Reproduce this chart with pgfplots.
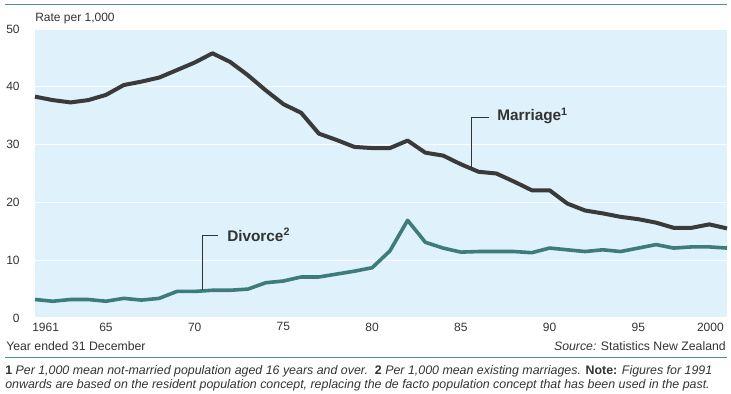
\documentclass[border=0pt]{standalone}
\usepackage{pgfplots}
\pgfplotsset{compat=1.18}
\usepackage{fontspec}
\setmainfont{Liberation Sans}
\definecolor{bgblue}{HTML}{DFF1FA}
\definecolor{marr}{HTML}{3A3A3A}
\definecolor{divc}{HTML}{3D7C7A}
\definecolor{rule}{HTML}{4E8E9A}
\definecolor{txt}{HTML}{333333}
\begin{document}
\begin{tikzpicture}[x=0.75pt,y=-0.75pt]
\path (0,0) rectangle (731,393);
\draw[rule,line width=1.2pt] (5,4.5) -- (727,4.5);
\draw[rule,line width=1.2pt] (5,357.5) -- (727,357.5);
\begin{axis}[
  at={(26.25pt,-238.5pt)}, anchor=south west,
  scale only axis, width=519pt, height=216.75pt,
  xmin=1961, xmax=2000, ymin=0, ymax=50,
  axis background/.style={fill=bgblue},
  axis line style={draw=none},
  major tick length=0pt,
  ytick={0,10,...,50},
  xtick={1965,1970,...,1995},
  xticklabels={65,70,75,80,85,90,95},
  ymajorgrids, grid style={white,line width=0.8pt},
  tick label style={font=\fontsize{9}{10}\selectfont, text=txt},
  yticklabel style={xshift=-8pt},
  /pgf/number format/assume math mode=true,
  clip=false,
]
\addplot[marr,line width=3pt,line join=round] coordinates {
(1961,38.3)(1962,37.7)(1963,37.3)(1964,37.7)(1965,38.6)(1966,40.3)(1967,40.9)(1968,41.6)(1969,42.9)(1970,44.2)
(1971,45.8)(1972,44.3)(1973,42.0)(1974,39.4)(1975,37.0)(1976,35.5)(1977,31.9)(1978,30.8)(1979,29.6)(1980,29.4)
(1981,29.4)(1982,30.7)(1983,28.6)(1984,28.1)(1985,26.6)(1986,25.3)(1987,25.0)(1988,23.6)(1989,22.1)(1990,22.1)
(1991,19.8)(1992,18.6)(1993,18.1)(1994,17.5)(1995,17.1)(1996,16.5)(1997,15.6)(1998,15.6)(1999,16.2)(2000,15.5)};
\addplot[divc,line width=2.7pt,line join=round] coordinates {
(1961,3.2)(1962,2.9)(1963,3.2)(1964,3.2)(1965,2.9)(1966,3.4)(1967,3.1)(1968,3.4)(1969,4.6)(1970,4.6)
(1971,4.8)(1972,4.8)(1973,5.0)(1974,6.1)(1975,6.4)(1976,7.1)(1977,7.1)(1978,7.6)(1979,8.1)(1980,8.7)
(1981,11.6)(1982,16.9)(1983,13.1)(1984,12.1)(1985,11.4)(1986,11.5)(1987,11.5)(1988,11.5)(1989,11.3)(1990,12.1)
(1991,11.8)(1992,11.5)(1993,11.8)(1994,11.5)(1995,12.1)(1996,12.7)(1997,12.1)(1998,12.3)(1999,12.3)(2000,12.1)};
\end{axis}
% year end labels
\node[anchor=base west,inner sep=0,font=\fontsize{9}{10}\selectfont,text=txt] at (32,331) {1961};
\node[anchor=base east,inner sep=0,font=\fontsize{9}{10}\selectfont,text=txt] at (724,331) {2000};
% axis titles
\node[anchor=base west,inner sep=0,font=\fontsize{9}{10}\selectfont,text=txt] at (35,21) {Rate per 1,000};
\node[anchor=base west,inner sep=0,font=\fontsize{9.2}{10}\selectfont,text=txt] at (6,350) {Year ended 31 December};
\node[anchor=base east,inner sep=0,font=\fontsize{9.2}{10}\selectfont,text=txt] at (726,350) {\textit{Source:} Statistics New Zealand};
% series labels
\draw[txt,line width=0.6pt] (489,117.5) -- (471,117.5) -- (471,168);
\node[anchor=west,inner sep=0,font=\fontsize{11.5}{12}\bfseries\selectfont,text=txt] at (497,116) {Marriage\textsuperscript{1}};
\draw[txt,line width=0.6pt] (218,235) -- (202,235) -- (202,290);
\node[anchor=west,inner sep=0,font=\fontsize{11.5}{12}\bfseries\selectfont,text=txt] at (227,235) {Divorce\textsuperscript{2}};
% footnotes
\node[anchor=base west,inner sep=0,font=\fontsize{9.3}{10}\selectfont,text=txt] at (5,374) {\textbf{1} \textit{Per 1,000 mean not-married population aged 16 years and over.}\ \ \textbf{2} \textit{Per 1,000 mean existing marriages.} \textbf{Note:} \textit{Figures for 1991}};
\node[anchor=base west,inner sep=0,font=\fontsize{9.3}{10}\selectfont,text=txt] at (5,388) {\textit{onwards are based on the resident population concept, replacing the de facto population concept that has been used in the past.}};
\end{tikzpicture}
\end{document}
